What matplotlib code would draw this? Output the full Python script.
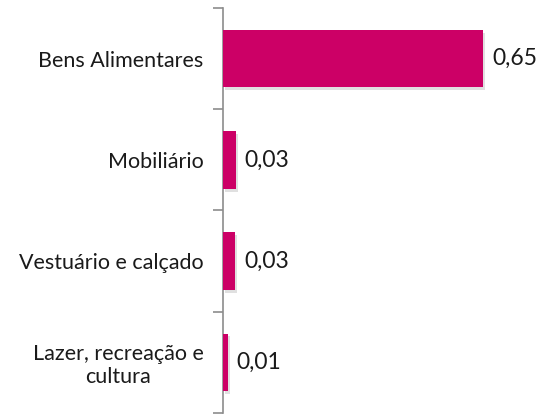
import matplotlib
matplotlib.use("Agg")
import matplotlib.pyplot as plt
import matplotlib.patheffects as pe

categories = ["Bens Alimentares", "Mobiliário", "Vestuário e calçado", "Lazer, recreação e\ncultura"]
values = [0.65, 0.032, 0.031, 0.012]
value_labels = ["0,65", "0,03", "0,03", "0,01"]

plt.rcParams['font.family'] = ['Lato', 'DejaVu Sans']
fig = plt.figure(figsize=(5.47, 4.15), dpi=100)
ax = fig.add_axes([223/547, 1-413/415, 320/547, 405/415])

color = "#CC0066"
pos = list(range(len(categories)))
shadow = [pe.SimplePatchShadow(offset=(1.5, -2), shadow_rgbFace="#999999", alpha=0.3), pe.Normal()]
bars = ax.barh(pos, values, height=0.57, color=color, zorder=3, path_effects=shadow)
ax.set_ylim(3.5, -0.5)
ax.set_xlim(0, 0.8)

for p, v, lab in zip(pos, values, value_labels):
    ax.annotate(lab, (v, p), xytext=(9, 0), textcoords="offset pixels",
                va="center", ha="left", fontsize=16.5, color="#1a1a1a")

for s in ["top", "right", "bottom"]:
    ax.spines[s].set_visible(False)
ax.spines["left"].set_color("#8c8c8c")
ax.spines["left"].set_linewidth(1.2)
ax.set_xticks([])
ax.set_yticks(pos)
ax.set_yticklabels(categories, fontsize=15.5, color="#1a1a1a", ha="right",
                   multialignment="center", linespacing=1.15)
ax.tick_params(axis="y", which="major", length=0, pad=14)
ax.set_yticks([-0.5, 0.5, 1.5, 2.5, 3.5], minor=True)
ax.tick_params(axis="y", which="minor", length=7, width=1.2, color="#8c8c8c", direction="out")

fig.savefig("out.png", dpi=100)
